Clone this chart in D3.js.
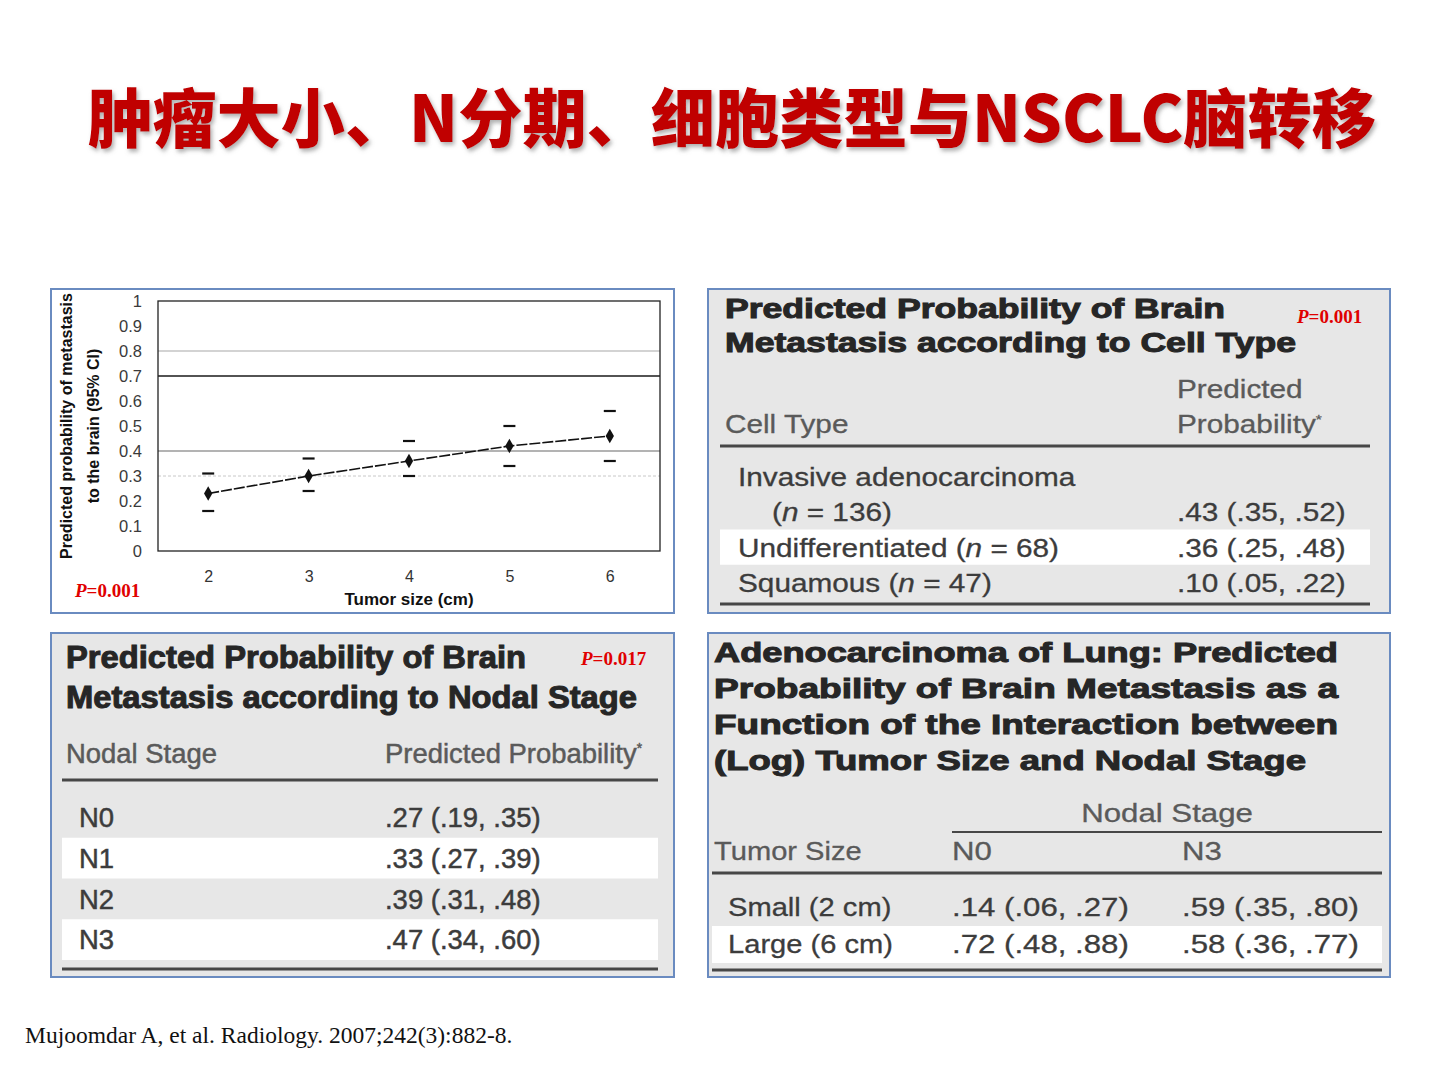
<!DOCTYPE html>
<html>
<head>
<meta charset="utf-8">
<script src="https://cdn.jsdelivr.net/npm/d3@7"></script>
<style>
  html, body { margin: 0; padding: 0; background: #fff; }
  svg { display: block; }
</style>
</head>
<body>
<div id="slide"></div>
<script>
// ---- data ----
const slideTitle = "肿瘤大小、N分期、细胞类型与NSCLC脑转移";
const citation = "Mujoomdar A, et al. Radiology. 2007;242(3):882-8.";

// panel 1: predicted probability vs tumor size
const tumorSizes = [2, 3, 4, 5, 6];
const sizeProb = [0.23, 0.30, 0.36, 0.42, 0.46];
const sizeLower = [0.16, 0.24, 0.30, 0.34, 0.36];
const sizeUpper = [0.31, 0.37, 0.44, 0.50, 0.56];
const yTicks = [0, 0.1, 0.2, 0.3, 0.4, 0.5, 0.6, 0.7, 0.8, 0.9, 1];
const sizeP = "0.001";

// panel 2: cell type
const cellTypes = ["Invasive adenocarcinoma", "Undifferentiated", "Squamous"];
const cellN = [136, 68, 47];
const cellProb = [0.43, 0.36, 0.10];
const cellLower = [0.35, 0.25, 0.05];
const cellUpper = [0.52, 0.48, 0.22];
const cellP = "0.001";

// panel 3: nodal stage
const nodalStages = ["N0", "N1", "N2", "N3"];
const nodalProb = [0.27, 0.33, 0.39, 0.47];
const nodalLower = [0.19, 0.27, 0.31, 0.34];
const nodalUpper = [0.35, 0.39, 0.48, 0.60];
const nodalP = "0.017";

// panel 4: interaction of size and nodal stage
const sizeGroups = ["Small (2 cm)", "Large (6 cm)"];
const interStages = ["N0", "N3"];
const interProb = [[0.14, 0.59], [0.72, 0.58]];
const interLower = [[0.06, 0.35], [0.48, 0.36]];
const interUpper = [[0.27, 0.80], [0.88, 0.77]];

// ---- helpers ----
const fmt = v => v.toFixed(2).replace(/^0/, "");
const ci = (p, lo, hi) => `${fmt(p)} (${fmt(lo)}, ${fmt(hi)})`;

const svg = d3.select("#slide").append("svg")
    .attr("width", 1440)
    .attr("height", 1080);

const defs = svg.append("defs");
const shadow = defs.append("filter").attr("id", "shadow")
    .attr("x", "-5%").attr("y", "-20%").attr("width", "110%").attr("height", "150%");
shadow.append("feDropShadow")
    .attr("dx", 2).attr("dy", 3).attr("stdDeviation", 2)
    .attr("flood-color", "#7a7a7a").attr("flood-opacity", 0.6);

// text placed at (x,y) and stretched horizontally by sx; parts = [[text, italic], ...]
function label(g, x, y, sx, parts, style) {
    const t = g.append("text")
        .attr("transform", `translate(${x},${y}) scale(${sx},1)`)
        .style("font-family", style.family || "'Liberation Sans', Arial, sans-serif")
        .style("font-size", style.size + "px")
        .style("font-weight", style.weight || 400)
        .style("text-anchor", style.anchor || "start")
        .attr("fill", style.fill || "#3a3a3a")
        .attr("stroke", style.fill || "#3a3a3a")
        .attr("stroke-width", style.stroke || 0);
    if (typeof parts === "string") parts = [[parts, false]];
    parts.forEach(([s, it]) => {
        t.append("tspan").text(s).style("font-style", it ? "italic" : "normal");
    });
    return t;
}

// heavy table caption, fitted to the width it takes on the slide
function caption(g, x, y, width, str, size) {
    g.append("text")
        .attr("x", x).attr("y", y)
        .attr("textLength", width)
        .attr("lengthAdjust", "spacingAndGlyphs")
        .style("font-family", "'Liberation Sans', Arial, sans-serif")
        .style("font-weight", 700)
        .style("font-size", size + "px")
        .attr("fill", "#262626")
        .attr("stroke", "#262626")
        .attr("stroke-width", 1)
        .text(str);
}

function pLabel(g, x, y, value) {
    const t = g.append("text")
        .attr("x", x).attr("y", y)
        .style("font-family", "'Liberation Serif', 'Times New Roman', serif")
        .style("font-weight", 700)
        .style("font-size", "19px")
        .attr("fill", "#e00000");
    t.append("tspan").style("font-style", "italic").text("P");
    t.append("tspan").text("=" + value);
}

function panel(x, y, w, h, fill) {
    const g = svg.append("g");
    g.append("rect")
        .attr("x", x).attr("y", y).attr("width", w).attr("height", h)
        .attr("fill", fill)
        .attr("stroke", "#6a8bc0")
        .attr("stroke-width", 2);
    return g;
}

function rule(g, x1, x2, y, w) {
    g.append("line")
        .attr("x1", x1).attr("x2", x2).attr("y1", y).attr("y2", y)
        .attr("stroke", "#474747")
        .attr("stroke-width", w);
}

// ---- slide title ----
svg.append("text")
    .attr("x", 88).attr("y", 142)
    .attr("textLength", 1288)
    .attr("lengthAdjust", "spacingAndGlyphs")
    .attr("filter", "url(#shadow)")
    .style("font-family", "'Noto Sans CJK SC', sans-serif")
    .style("font-weight", 900)
    .style("font-size", "64px")
    .attr("fill", "#c00000")
    .text(slideTitle);

// ---- panel 1: line chart ----
const p1 = panel(51, 289, 623, 324, "#ffffff");

const x = d3.scaleLinear().domain([1.5, 6.5]).range([158, 660]);
const y = d3.scaleLinear().domain([0, 1]).range([551, 301]);

// reference lines as drawn in the source figure
const gridStyles = [
    {v: 0.8, stroke: "#a8a8a8", w: 1.2, dash: null},
    {v: 0.7, stroke: "#1a1a1a", w: 1.4, dash: null},
    {v: 0.4, stroke: "#9a9a9a", w: 1.6, dash: null},
    {v: 0.3, stroke: "#c8c8c8", w: 1, dash: "3,2"}
];
p1.append("g").selectAll("line")
    .data(gridStyles)
    .join("line")
    .attr("x1", x(1.5)).attr("x2", x(6.5))
    .attr("y1", d => y(d.v)).attr("y2", d => y(d.v))
    .attr("stroke", d => d.stroke)
    .attr("stroke-width", d => d.w)
    .attr("stroke-dasharray", d => d.dash);

p1.append("rect")
    .attr("x", x(1.5)).attr("y", y(1))
    .attr("width", x(6.5) - x(1.5)).attr("height", y(0) - y(1))
    .attr("fill", "none")
    .attr("stroke", "#222")
    .attr("stroke-width", 1.3);

const yAxis = p1.append("g")
    .attr("transform", `translate(${x(1.5) - 13},0)`)
    .call(d3.axisLeft(y).tickValues(yTicks).tickSize(0).tickFormat(d3.format("")));
yAxis.select(".domain").remove();
yAxis.selectAll("text")
    .style("font-family", "'Liberation Sans', Arial, sans-serif")
    .style("font-size", "16.5px")
    .attr("fill", "#3a3a3a")
    .attr("dy", "0.36em");

const xAxis = p1.append("g")
    .attr("transform", `translate(0,${y(0) + 17})`)
    .call(d3.axisBottom(x).tickValues(tumorSizes).tickSize(0).tickFormat(d3.format("d")));
xAxis.select(".domain").remove();
xAxis.selectAll("text")
    .style("font-family", "'Liberation Sans', Arial, sans-serif")
    .style("font-size", "16px")
    .attr("fill", "#333");

const pts = tumorSizes.map((s, i) => ({s, p: sizeProb[i], lo: sizeLower[i], hi: sizeUpper[i]}));

p1.append("path")
    .datum(pts)
    .attr("fill", "none")
    .attr("stroke", "#111")
    .attr("stroke-width", 1.6)
    .attr("stroke-dasharray", "11,2")
    .attr("d", d3.line().x(d => x(d.s)).y(d => y(d.p)));

const caps = p1.append("g");
pts.forEach(d => {
    [d.lo, d.hi].forEach(v => {
        caps.append("line")
            .attr("x1", x(d.s) - 6).attr("x2", x(d.s) + 6)
            .attr("y1", y(v)).attr("y2", y(v))
            .attr("stroke", "#111")
            .attr("stroke-width", 2.2);
    });
});

p1.append("g").selectAll("path")
    .data(pts)
    .join("path")
    .attr("transform", d => `translate(${x(d.s)},${y(d.p)})`)
    .attr("d", d3.symbol(d3.symbolDiamond, 60))
    .attr("fill", "#111");

p1.append("text")
    .attr("x", x(4)).attr("y", 605)
    .style("text-anchor", "middle")
    .style("font-family", "'Liberation Sans', Arial, sans-serif")
    .style("font-weight", 700)
    .style("font-size", "17px")
    .attr("fill", "#111")
    .text("Tumor size (cm)");

const yLab = p1.append("text")
    .attr("transform", `translate(72,${y(0.5)}) rotate(-90)`)
    .style("text-anchor", "middle")
    .style("font-family", "'Liberation Sans', Arial, sans-serif")
    .style("font-weight", 700)
    .style("font-size", "16px")
    .attr("fill", "#111");
yLab.append("tspan").attr("x", 0).attr("dy", 0).text("Predicted probability of metastasis");
yLab.append("tspan").attr("x", 0).attr("dy", 27).text("to the brain (95% CI)");

pLabel(p1, 75, 597, sizeP);

// ---- panel 2: cell type ----
const p2 = panel(708, 289, 682, 324, "#e7e7e7");
caption(p2, 725, 318, 500, "Predicted Probability of Brain", 27);
caption(p2, 725, 352, 571, "Metastasis according to Cell Type", 27);
pLabel(p2, 1297, 323, cellP);

const sx2 = 1.19;
const s2 = {size: 25, fill: "#5a5a5a", stroke: 0.3};
label(p2, 725, 433, sx2, "Cell Type", s2);
label(p2, 1177, 398, sx2, "Predicted", s2);
label(p2, 1177, 433, sx2, "Probability", s2)
    .append("tspan").attr("dy", -9).style("font-size", "13px").text("*");
rule(p2, 720, 1370, 446, 3);

const lines2 = d3.scaleBand().domain([0, 1, 2, 3]).range([459, 600]);
p2.append("rect")
    .attr("x", 720).attr("y", lines2(2))
    .attr("width", 650).attr("height", lines2.bandwidth())
    .attr("fill", "#fff");

const b2 = {size: 25, fill: "#3c3c3c", stroke: 0.3};
const nParts = n => [[" (", false], ["n", true], [" = " + n + ")", false]];
label(p2, 738, lines2(0) + 27, sx2, cellTypes[0], b2);
label(p2, 772, lines2(1) + 27, sx2, nParts(cellN[0]).map((d, i) => i === 0 ? ["(", false] : d), b2);
label(p2, 1177, lines2(1) + 27, sx2, ci(cellProb[0], cellLower[0], cellUpper[0]), b2);
[1, 2].forEach(i => {
    label(p2, 738, lines2(i + 1) + 27, sx2, [[cellTypes[i], false]].concat(nParts(cellN[i])), b2);
    label(p2, 1177, lines2(i + 1) + 27, sx2, ci(cellProb[i], cellLower[i], cellUpper[i]), b2);
});
rule(p2, 720, 1370, 604, 3);

// ---- panel 3: nodal stage ----
const p3 = panel(51, 633, 623, 344, "#e7e7e7");
caption(p3, 66, 668, 460, "Predicted Probability of Brain", 31);
caption(p3, 66, 708, 571, "Metastasis according to Nodal Stage", 31);
pLabel(p3, 581, 665, nodalP);

const sx3 = 0.98;
const s3 = {size: 28, fill: "#5a5a5a", stroke: 0.5};
label(p3, 66, 763, sx3, "Nodal Stage", s3);
label(p3, 385, 763, sx3, "Predicted Probability", s3)
    .append("tspan").attr("dy", -10).style("font-size", "14px").text("*");
rule(p3, 62, 658, 780, 3);

const rows3 = d3.scaleBand().domain(nodalStages).range([797, 960]);
p3.append("g").selectAll("rect")
    .data(nodalStages.filter((d, i) => i % 2 === 1))
    .join("rect")
    .attr("x", 62).attr("y", d => rows3(d))
    .attr("width", 596).attr("height", rows3.bandwidth())
    .attr("fill", "#fff");

const b3 = {size: 28, fill: "#3c3c3c", stroke: 0.5};
nodalStages.forEach((st, i) => {
    label(p3, 79, rows3(st) + 30, sx3, st, b3);
    label(p3, 385, rows3(st) + 30, sx3, ci(nodalProb[i], nodalLower[i], nodalUpper[i]), b3);
});
rule(p3, 62, 658, 969, 3);

// ---- panel 4: interaction ----
const p4 = panel(708, 633, 682, 344, "#e7e7e7");
caption(p4, 714, 662, 624, "Adenocarcinoma of Lung: Predicted", 27);
caption(p4, 714, 698, 624, "Probability of Brain Metastasis as a", 27);
caption(p4, 714, 734, 624, "Function of the Interaction between", 27);
caption(p4, 714, 770, 592, "(Log) Tumor Size and Nodal Stage", 27);

const sx4 = 1.2;
const cols4 = d3.scaleOrdinal().domain(interStages).range([952, 1182]);
const s4 = {size: 26, fill: "#5a5a5a", stroke: 0.3};
label(p4, 1167, 822, sx4, "Nodal Stage", Object.assign({anchor: "middle"}, s4));
rule(p4, 952, 1382, 832, 2);
label(p4, 714, 860, 1.12, "Tumor Size", s4);
interStages.forEach(st => label(p4, cols4(st), 860, sx4, st, s4));
rule(p4, 712, 1382, 873, 3);

const rows4 = d3.scaleBand().domain(sizeGroups).range([889, 963]);
p4.append("rect")
    .attr("x", 712).attr("y", rows4(sizeGroups[1]))
    .attr("width", 670).attr("height", rows4.bandwidth())
    .attr("fill", "#fff");

const b4 = {size: 26, fill: "#3c3c3c", stroke: 0.3};
sizeGroups.forEach((g, i) => {
    label(p4, 728, rows4(g) + 27, 1.12, g, b4);
    interStages.forEach((st, j) => {
        label(p4, cols4(st), rows4(g) + 27, sx4, ci(interProb[i][j], interLower[i][j], interUpper[i][j]), b4);
    });
});
rule(p4, 712, 1382, 970, 3);

// ---- citation ----
svg.append("text")
    .attr("x", 25).attr("y", 1043)
    .style("font-family", "'Liberation Serif', 'Times New Roman', serif")
    .style("font-size", "23.5px")
    .attr("fill", "#111")
    .text(citation);
</script>
</body>
</html>
